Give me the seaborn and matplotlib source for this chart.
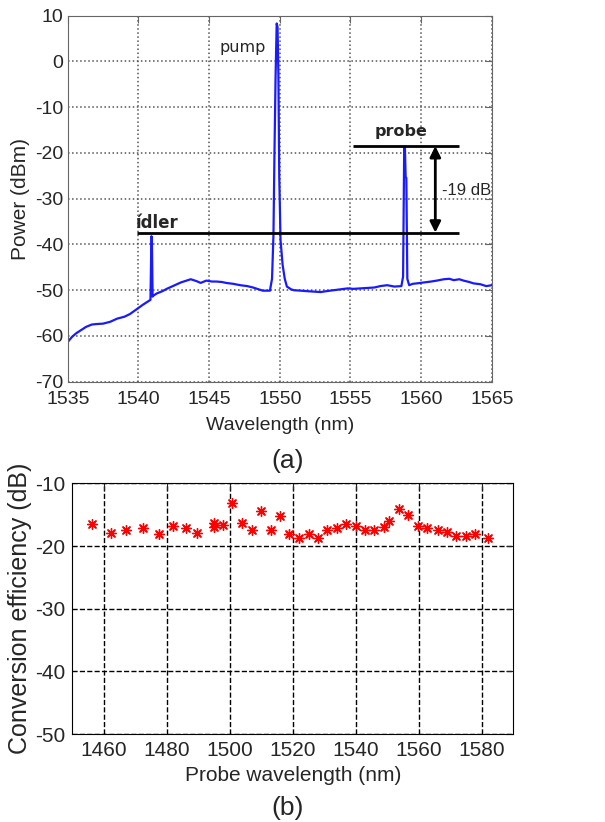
import numpy as np
import pandas as pd
import seaborn as sns
import matplotlib.pyplot as plt

# (a) optical spectrum
spec_wl = [1535.0, 1535.3, 1535.6, 1536.0, 1536.3, 1536.7, 1537.0, 1537.5, 1538.0,
           1538.5, 1539.0, 1539.4, 1539.9, 1540.3, 1540.6, 1540.85, 1540.92, 1540.95,
           1541.0, 1541.05, 1541.3, 1541.7, 1542.0, 1542.5, 1543.0, 1543.4, 1543.7,
           1544.1, 1544.4, 1544.8, 1545.2, 1545.5, 1545.9, 1546.2, 1546.7, 1547.2,
           1547.7, 1548.1, 1548.5, 1548.8, 1549.3, 1549.45, 1549.55, 1549.62, 1549.7,
           1549.78, 1549.84, 1549.9, 1549.96, 1550.05, 1550.2, 1550.35, 1550.5, 1550.8,
           1551.0, 1551.5, 1551.9, 1552.4, 1552.9, 1553.3, 1553.8, 1554.3, 1554.8,
           1555.2, 1555.7, 1556.2, 1556.7, 1557.1, 1557.6, 1558.1, 1558.6, 1558.72,
           1558.8, 1558.85, 1558.9, 1558.95, 1559.02, 1559.15, 1559.4, 1559.7, 1560.2,
           1560.7, 1561.1, 1561.6, 1562.0, 1562.3, 1562.7, 1563.0, 1563.4, 1563.7,
           1564.2, 1564.6, 1565.0]
spec_pw = [-61.3, -60.2, -59.4, -58.6, -58.0, -57.5, -57.4, -57.3, -56.9,
           -56.2, -55.8, -55.2, -54.1, -53.2, -52.6, -52.1, -38.2, -38.5,
           -51.4, -51.2, -50.7, -50.2, -49.7, -49.0, -48.3, -47.9, -47.6,
           -48.0, -48.4, -47.9, -48.1, -48.1, -48.2, -48.4, -48.6, -48.9,
           -49.1, -49.4, -49.8, -50.1, -50.1, -47.5, -38.0, -20.5, -3.3,
           8.3, 7.5, -3.0, -25.0, -39.0, -44.5, -47.5, -49.2, -49.8,
           -50.0, -50.1, -50.2, -50.3, -50.4, -50.2, -50.0, -49.8, -49.6,
           -49.7, -49.6, -49.5, -49.4, -49.1, -48.9, -49.2, -49.1, -47.0,
           -18.6, -18.8, -25.2, -25.5, -47.5, -48.9, -48.6, -48.5, -48.3,
           -48.1, -47.9, -47.6, -47.5, -47.8, -47.6, -47.9, -48.2, -48.5,
           -48.7, -49.1, -48.9]

# (b) conversion efficiency vs probe wavelength
probe_wl = [1456.3, 1462.4, 1467.0, 1472.3, 1477.4, 1482.0, 1486.0, 1489.5, 1494.9,
            1495.1, 1497.9, 1500.8, 1504.0, 1507.0, 1510.0, 1513.2, 1516.0, 1518.9,
            1521.9, 1525.0, 1527.9, 1530.9, 1534.0, 1536.8, 1539.9, 1542.9, 1545.9,
            1548.8, 1550.5, 1553.7, 1556.7, 1559.8, 1562.7, 1566.0, 1568.9, 1571.9,
            1574.9, 1577.8, 1581.8]
conv_eff = [-16.5, -18.0, -17.4, -17.2, -18.1, -16.8, -17.2, -17.9, -16.4,
            -16.9, -16.7, -13.2, -16.4, -17.4, -14.4, -17.4, -15.2, -18.1,
            -18.7, -18.1, -18.8, -17.4, -17.1, -16.5, -16.8, -17.4, -17.4,
            -17.0, -16.0, -14.1, -15.1, -16.8, -17.2, -17.4, -17.7, -18.4,
            -18.4, -18.1, -18.7]

idler_level = -37.4
probe_level = -18.5

sns.set_style("white")
plt.rcParams['font.family'] = ['Liberation Sans', 'DejaVu Sans']
plt.rcParams['axes.unicode_minus'] = False

fig = plt.figure(figsize=(6.05, 8.22), dpi=100)

# ---- (a) ----
ax1 = fig.add_axes([0.112, 0.5356, 0.701, 0.4453])
df_spec = pd.DataFrame({"wl": spec_wl, "pw": spec_pw})
sns.lineplot(data=df_spec, x="wl", y="pw", ax=ax1, color="#1a1aff", lw=1.6,
             estimator=None, sort=False)
ax1.set_xlim(1535, 1565)
ax1.set_ylim(-70, 10)
ax1.set_xticks(np.arange(1535, 1566, 5))
ax1.set_yticks(np.arange(-70, 11, 10))
ax1.grid(True, ls=':', color="#555555", lw=1.1)
for s in ax1.spines.values():
    s.set_color("#666666")
ax1.tick_params(direction="in", length=5, labelsize=14, top=True, right=True,
                color="#666666")
ax1.tick_params(axis="x", pad=7)
ax1.tick_params(axis="y", pad=3)
ax1.set_xlabel("Wavelength (nm)", fontsize=14, labelpad=6)
ax1.set_ylabel("Power (dBm)", fontsize=15, labelpad=4)

ax1.hlines(idler_level, 1539.9, 1562.7, color="black", lw=2)
ax1.hlines(probe_level, 1555.2, 1562.7, color="black", lw=2)
ax1.annotate("", xy=(1561.0, probe_level), xytext=(1561.0, idler_level),
             arrowprops=dict(arrowstyle="<|-|>", color="black", lw=2,
                             mutation_scale=16, shrinkA=0, shrinkB=0))
ax1.text(1561.5, -28.1, "-19 dB", fontsize=12, va="center", ha="left")
ax1.text(1547.4, 3.0, "pump", fontsize=11.5, family="DejaVu Sans", ha="center", va="center")
ax1.text(1558.6, -15.4, "probe", fontsize=11.5, family="DejaVu Sans", weight="bold",
         ha="center", va="center")
ax1.text(1539.8, -35.3, "ídler", fontsize=12, family="DejaVu Sans", weight="bold",
         ha="left", va="center")

fig.text(0.475, 1 - 461 / 822, "(a)", fontsize=19, ha="center", va="center")

# ---- (b) ----
ax2 = fig.add_axes([0.1195, 0.107, 0.729, 0.305])
df_conv = pd.DataFrame({"wl": probe_wl, "ce": conv_eff})
sns.scatterplot(data=df_conv, x="wl", y="ce", ax=ax2, color="red",
                marker=(8, 2, 0), s=50, linewidth=1.0)
ax2.set_xlim(1450, 1590)
ax2.set_ylim(-50, -10)
ax2.set_xticks(np.arange(1460, 1581, 20))
ax2.set_yticks(np.arange(-50, -9, 10))
ax2.grid(True, ls="--", color="black", lw=1)
for s in ax2.spines.values():
    s.set_color("black")
ax2.tick_params(direction="in", length=5, labelsize=15, top=True, right=True, pad=5)
ax2.set_xlabel("Probe wavelength (nm)", fontsize=15, labelpad=4)
ax2.set_ylabel("Conversion efficiency (dB)", fontsize=18, labelpad=2)

fig.text(0.475, 1 - 808 / 822, "(b)", fontsize=19, ha="center", va="center")

fig.savefig("out.png", dpi=100)
